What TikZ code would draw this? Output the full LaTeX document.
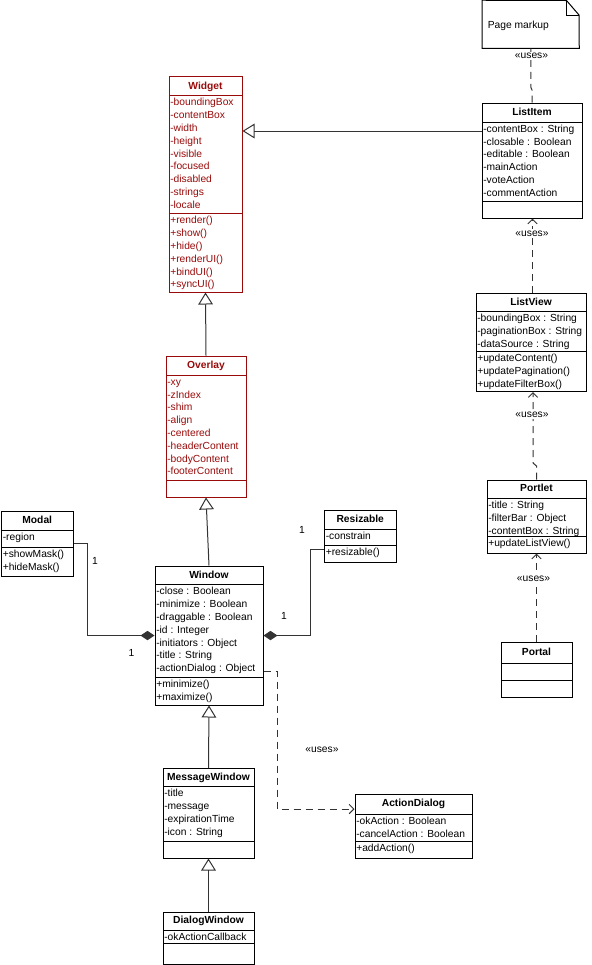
\documentclass[tikz,border=0pt]{standalone}
\usepackage{fontspec}
\setmainfont{Liberation Sans}
\usetikzlibrary{arrows.meta,fit}

\definecolor{wred}{RGB}{153,10,10}

\begin{document}
\begin{tikzpicture}[x=0.75pt,y=0.75pt,yscale=-1,xscale=1,
    every node/.style={font=\fontsize{7.7}{9.6}\selectfont, inner sep=0pt},
    classbox/.style={draw=black, line width=0.75pt},
    classline/.style={line width=0.75pt},
    classname/.style={anchor=base, font=\fontsize{7.7}{9.6}\selectfont\bfseries},
    member/.style={anchor=base west},
    usestext/.style={fill=white, inner sep=1pt},
    generalize/.style={draw=black!80, line width=0.75pt, -{Triangle[open,length=9pt,width=11pt]}},
    compose/.style={draw=black!80, line width=0.75pt, -{Diamond[length=10.5pt,width=7pt]}},
    uses/.style={draw=black!80, line width=0.75pt, dash pattern={on 5.25pt off 3.75pt}, -{Straight Barb[length=3.5pt,width=7pt]}}]
    \useasboundingbox (0,0) rectangle (592,965);

    %Shape: Note [Page markup]
    \node [fit={(482.5,0.5) (579,48)}] (pagemarkup) {};
    \draw [classline] (pagemarkup.north west) -- (566.5,0.5) -- (579,15) -- (pagemarkup.south east) -- (pagemarkup.south west) -- cycle ;
    \draw [classline] (566.5,0.5) -- (566.5,15) -- (579,15) ;
    % Text Node
    \node [member] (pagemarkup-text) at (487.5,28) {Page markup};

    %Shape: Class [ListItem]
    \node [classbox, fit={(482,103) (582,218)}] (listitem) {};
    \draw [classline] (482,122) -- (582,122) (482,201.5) -- (582,201.5) ;
    \node [classname] (listitem-name) at (listitem.north |- 0,115.5) {ListItem};
    \foreach \m [count=\i from 0] in {-contentBox : String,-closable : Boolean,-editable : Boolean,-mainAction,-voteAction,-commentAction}
        \node [member] (listitem-a\i) at (483,132.3+12.8*\i) {\m};

    %Shape: Class [Widget]
    \node [classbox, draw=wred, fit={(169,76.5) (242,292)}] (widget) {};
    \draw [classline, wred] (169,95.5) -- (242,95.5) (169,213.5) -- (242,213.5) ;
    \node [classname, wred] (widget-name) at (widget.north |- 0,89) {Widget};
    \foreach \m [count=\i from 0] in {-boundingBox,-contentBox,-width,-height,-visible,-focused,-disabled,-strings,-locale}
        \node [member, wred] (widget-a\i) at (170,105.8+12.8*\i) {\m};
    \foreach \m [count=\i from 0] in {+render(),+show(),+hide(),+renderUI(),+bindUI(),+syncUI()}
        \node [member, wred] (widget-o\i) at (170,223.8+12.8*\i) {\m};

    %Shape: Class [Overlay]
    \node [classbox, draw=wred, fit={(166,356) (246,497)}] (overlay) {};
    \draw [classline, wred] (166,375) -- (246,375) (166,480) -- (246,480) ;
    \node [classname, wred] (overlay-name) at (overlay.north |- 0,368.5) {Overlay};
    \foreach \m [count=\i from 0] in {-xy,-zIndex,-shim,-align,-centered,-headerContent,-bodyContent,-footerContent}
        \node [member, wred] (overlay-a\i) at (167,385.3+12.8*\i) {\m};

    %Shape: Class [Modal]
    \node [classbox, fit={(1.5,511) (73,576)}] (modal) {};
    \draw [classline] (1.5,530.5) -- (73,530.5) (1.5,547) -- (73,547) ;
    \node [classname] (modal-name) at (modal.north |- 0,523.5) {Modal};
    \node [member] (modal-a0) at (2.5,540.8) {-region};
    \foreach \m [count=\i from 0] in {+showMask(),+hideMask()}
        \node [member] (modal-o\i) at (2.5,557.3+12.8*\i) {\m};

    %Shape: Class [Resizable]
    \node [classbox, fit={(324.5,510) (396,562)}] (resizable) {};
    \draw [classline] (324.5,529) -- (396,529) (324.5,545.5) -- (396,545.5) ;
    \node [classname] (resizable-name) at (resizable.north |- 0,522) {Resizable};
    \node [member] (resizable-a0) at (325.5,539.3) {-constrain};
    \node [member] (resizable-o0) at (325.5,555.8) {+resizable()};

    %Shape: Class [Window]
    \node [classbox, fit={(155,566) (263,705)}] (window) {};
    \draw [classline] (155,584.5) -- (263,584.5) (155,677.5) -- (263,677.5) ;
    \node [classname] (window-name) at (window.north |- 0,578) {Window};
    \foreach \m [count=\i from 0] in {-close : Boolean,-minimize : Boolean,-draggable : Boolean,-id : Integer,-initiators : Object,-title : String,-actionDialog : Object}
        \node [member] (window-a\i) at (156,594.8+12.8*\i) {\m};
    \foreach \m [count=\i from 0] in {+minimize(),+maximize()}
        \node [member] (window-o\i) at (156,687.8+12.8*\i) {\m};

    %Shape: Class [MessageWindow]
    \node [classbox, fit={(163,768.5) (254,858)}] (messagewindow) {};
    \draw [classline] (163,786.5) -- (254,786.5) (163,841) -- (254,841) ;
    \node [classname] (messagewindow-name) at (messagewindow.north |- 0,780) {MessageWindow};
    \foreach \m [count=\i from 0] in {-title,-message,-expirationTime,-icon : String}
        \node [member] (messagewindow-a\i) at (164,796.8+12.8*\i) {\m};

    %Shape: Class [DialogWindow]
    \node [classbox, fit={(163,912) (254,964)}] (dialogwindow) {};
    \draw [classline] (163,930) -- (254,930) (163,943.5) -- (254,943.5) ;
    \node [classname] (dialogwindow-name) at (dialogwindow.north |- 0,923.5) {DialogWindow};
    \node [member] (dialogwindow-a0) at (164,940.3) {-okActionCallback};

    %Shape: Class [ActionDialog]
    \node [classbox, fit={(355,794) (472,858.5)}] (actiondialog) {};
    \draw [classline] (355,814) -- (472,814) (355,841) -- (472,841) ;
    \node [classname] (actiondialog-name) at (actiondialog.north |- 0,806.5) {ActionDialog};
    \foreach \m [count=\i from 0] in {-okAction : Boolean,-cancelAction : Boolean}
        \node [member] (actiondialog-a\i) at (356,824.3+12.8*\i) {\m};
    \node [member] (actiondialog-o0) at (356,851.3) {+addAction()};

    %Shape: Class [ListView]
    \node [classbox, fit={(476,293.5) (586,391.5)}] (listview) {};
    \draw [classline] (476,311.5) -- (586,311.5) (476,351.5) -- (586,351.5) ;
    \node [classname] (listview-name) at (listview.north |- 0,305) {ListView};
    \foreach \m [count=\i from 0] in {-boundingBox : String,-paginationBox : String,-dataSource : String}
        \node [member] (listview-a\i) at (477,321.8+12.8*\i) {\m};
    \foreach \m [count=\i from 0] in {+updateContent(),+updatePagination(),+updateFilterBox()}
        \node [member] (listview-o\i) at (477,361.8+12.8*\i) {\m};

    %Shape: Class [Portlet]
    \node [classbox, fit={(487,480) (586,553)}] (portlet) {};
    \draw [classline] (487,498.5) -- (586,498.5) (487,536) -- (586,536) ;
    \node [classname] (portlet-name) at (portlet.north |- 0,491.5) {Portlet};
    \foreach \m [count=\i from 0] in {-title : String,-filterBar : Object,-contentBox : String}
        \node [member] (portlet-a\i) at (488,508.8+12.8*\i) {\m};
    \node [member] (portlet-o0) at (488,546.3) {+updateListView()};

    %Shape: Class [Portal]
    \node [classbox, fit={(501,642) (572,697)}] (portal) {};
    \draw [classline] (501,663) -- (572,663) (501,680) -- (572,680) ;
    \node [classname] (portal-name) at (portal.north |- 0,655) {Portal};

    %Straight Lines [generalization]
    \draw [generalize] (listitem.west |- 0,131) -- (widget.east |- 0,131) ;
    \draw [generalize] (overlay.north) -- (widget.south) ;
    \draw [generalize] (window.north) -- (overlay.south) ;
    \draw [generalize] (messagewindow.north) -- (window.south) ;
    \draw [generalize] (dialogwindow.north) -- (messagewindow.south) ;

    %Straight Lines [composition]
    \draw [compose] (modal.east |- 0,543) -- (87.5,543) -- (87.5,635.5) -- (window.west |- 0,635.5) ;
    \draw [compose] (resizable.west |- 0,549.5) -- (310.5,549.5) -- (310.5,635.5) -- (window.east |- 0,635.5) ;

    %Straight Lines [dependency]
    \draw [uses, -] (listitem.north) -- (listitem.north |- 0,90) -- (pagemarkup.south |- 0,87) -- (pagemarkup.south) ;
    \draw [uses] (listview.north -| 532.5,0) -- (listitem.south -| 532.5,0) ;
    \draw [uses] (portlet.north) -- (portlet.north |- 0,466) -- (533,463) -- (listview.south -| 533,0) ;
    \draw [uses] (portal.north) -- (portlet.south -| portal.north) ;
    \draw [uses] (window.east |- 0,671) -- (277,671) -- (277,809) -- (actiondialog.west |- 0,809) ;

    % Text Node
    \node [usestext] (uses-pagemarkup) at (531.5,56) {«uses»};
    \node [usestext] (uses-listitem) at (532,233.5) {«uses»};
    \node [usestext] (uses-listview) at (532,415) {«uses»};
    \node [usestext] (uses-portlet) at (533.5,579) {«uses»};
    \node [usestext] (uses-actiondialog) at (322,750) {«uses»};
    \node (modal-m1) at (95,561) {1};
    \node (modal-m2) at (131.5,653) {1};
    \node (resizable-m1) at (302,530) {1};
    \node (resizable-m2) at (284,616) {1};

\end{tikzpicture}
\end{document}
